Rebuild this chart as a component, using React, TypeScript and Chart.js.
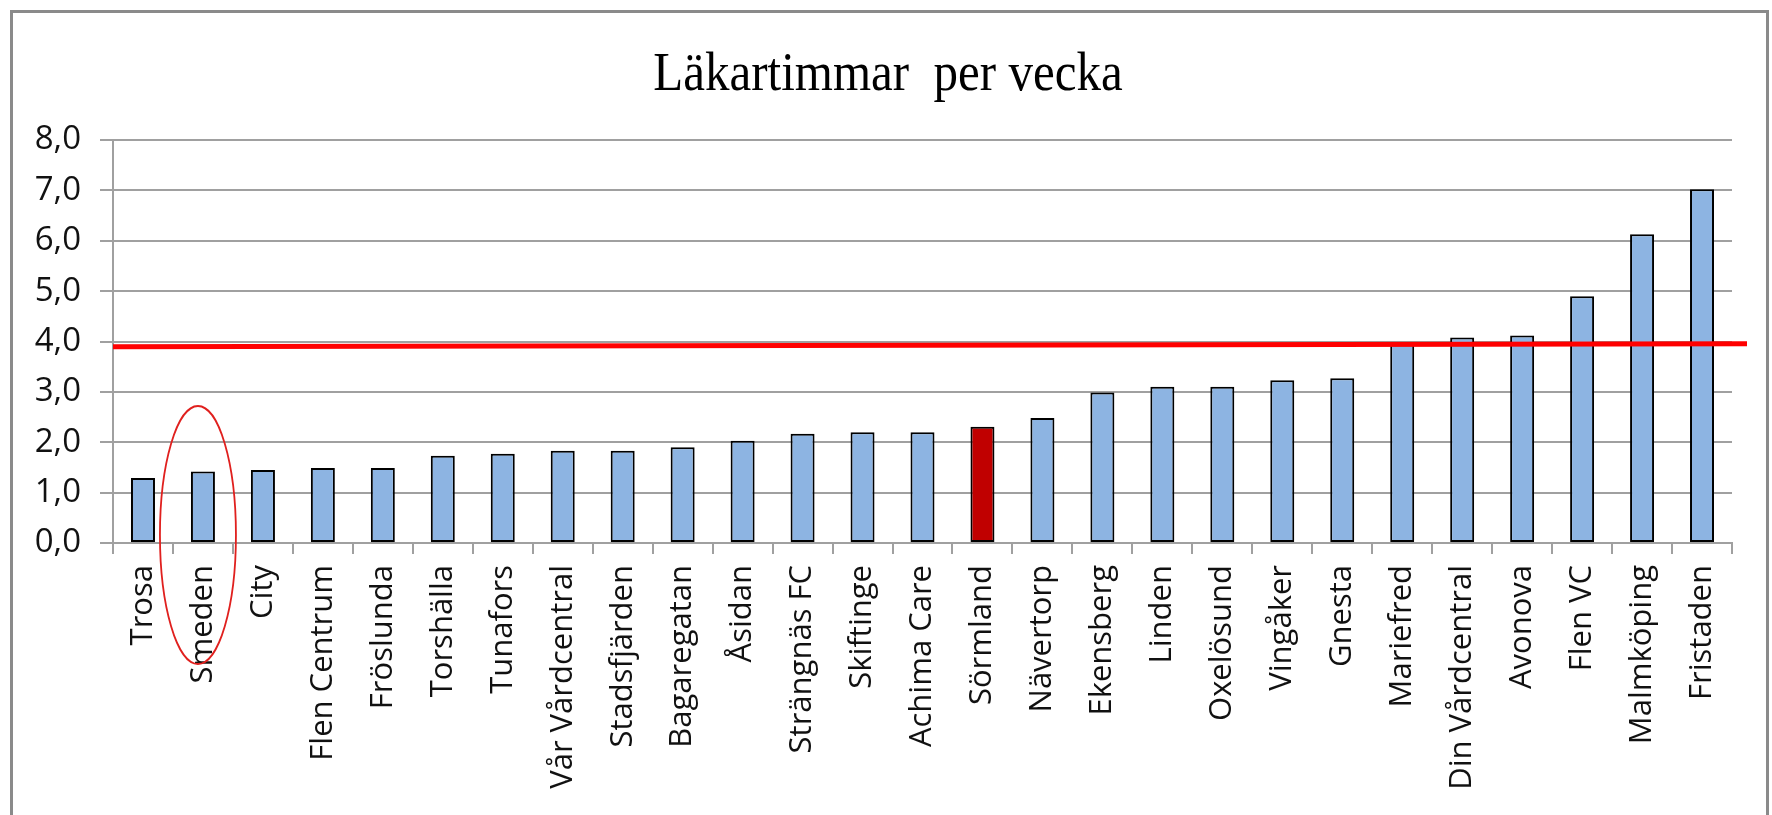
import React, { useEffect, useRef } from 'react';
import { Chart, registerables } from 'chart.js';

Chart.register(...registerables);

const TITLE = 'Läkartimmar  per vecka';

const CATEGORIES = [
  'Trosa', 'Smeden', 'City', 'Flen Centrum', 'Fröslunda', 'Torshälla', 'Tunafors',
  'Vår Vårdcentral', 'Stadsfjärden', 'Bagaregatan', 'Åsidan', 'Strängnäs FC',
  'Skiftinge', 'Achima Care', 'Sörmland', 'Nävertorp', 'Ekensberg', 'Linden',
  'Oxelösund', 'Vingåker', 'Gnesta', 'Mariefred', 'Din Vårdcentral', 'Avonova',
  'Flen VC', 'Malmköping', 'Fristaden',
];

const VALUES = [
  1.29, 1.42, 1.45, 1.49, 1.49, 1.73, 1.77,
  1.83, 1.83, 1.90, 2.03, 2.17,
  2.20, 2.20, 2.31, 2.48, 2.99, 3.10,
  3.10, 3.23, 3.27, 3.98, 4.08, 4.12,
  4.90, 6.13, 7.02,
];

const HIGHLIGHT = 'Sörmland';
const CIRCLED = 'Smeden';
const Y_MIN = 0;
const Y_MAX = 8;
const Y_STEP = 1;
// hand-drawn average line: value at left end, value at right end
const REF_LINE = [3.895, 3.955];

const W = 1772;
const H = 815;

const BAR_COLOR = '#8DB4E2';
const HIGHLIGHT_COLOR = '#C00000';
const GRID_COLOR = '#a0a0a0';
const LABEL_FONT = '"Open Sans", "Noto Sans", sans-serif';
const TITLE_FONT = '"Liberation Serif", "Times New Roman", serif';

const decorPlugin = {
  id: 'decor',
  beforeDraw(chart: any) {
    const ctx = chart.ctx;
    ctx.save();
    ctx.fillStyle = '#ffffff';
    ctx.fillRect(0, 0, W, H);
    ctx.strokeStyle = '#8a8a8a';
    ctx.lineWidth = 3;
    ctx.strokeRect(11.5, 11.5, 1756, 1000);
    // title
    ctx.fillStyle = '#000000';
    ctx.font = `normal 49px ${TITLE_FONT}`;
    ctx.textAlign = 'center';
    ctx.textBaseline = 'alphabetic';
    ctx.translate(888, 90);
    ctx.scale(1, 1.12);
    ctx.fillText(TITLE, 0, 0);
    ctx.restore();
  },
  afterDatasetsDraw(chart: any) {
    const { ctx, chartArea, scales } = chart;
    const x = scales.x;
    const y = scales.y;
    ctx.save();
    // red reference line
    ctx.strokeStyle = '#ff0000';
    ctx.lineWidth = 5;
    ctx.beginPath();
    ctx.moveTo(chartArea.left, y.getPixelForValue(REF_LINE[0]));
    ctx.lineTo(chartArea.right + 15, y.getPixelForValue(REF_LINE[1]));
    ctx.stroke();
    // ellipse around circled category
    const idx = CATEGORIES.indexOf(CIRCLED);
    const cx = x.getPixelForValue(idx) - 5;
    const cy = y.getPixelForValue(0) - 8;
    ctx.strokeStyle = '#e0201e';
    ctx.lineWidth = 1.8;
    ctx.beginPath();
    ctx.ellipse(cx, cy, 38, 129, 0, 0, Math.PI * 2);
    ctx.stroke();
    ctx.restore();
  },
};

export default function App() {
  const ref = useRef<HTMLCanvasElement | null>(null);

  useEffect(() => {
    if (!ref.current) return;
    const chart = new Chart(ref.current, {
      type: 'bar',
      data: {
        labels: CATEGORIES,
        datasets: [
          {
            data: VALUES,
            backgroundColor: CATEGORIES.map((c) => (c === HIGHLIGHT ? HIGHLIGHT_COLOR : BAR_COLOR)),
            borderColor: '#000000',
            borderWidth: 2,
            borderSkipped: false,
            barPercentage: 0.4,
            categoryPercentage: 1,
          },
        ],
      },
      options: {
        animation: false,
        responsive: false,
        devicePixelRatio: 1,
        layout: { padding: { left: 20, right: 40, top: 140, bottom: 0 } },
        plugins: {
          legend: { display: false },
          tooltip: { enabled: false },
          title: { display: false },
        },
        scales: {
          x: {
            grid: {
              drawOnChartArea: false,
              drawTicks: true,
              tickLength: 11,
              color: GRID_COLOR,
              lineWidth: 2,
              offset: true,
            },
            border: { display: true, color: GRID_COLOR, width: 2 },
            ticks: {
              autoSkip: false,
              minRotation: 90,
              maxRotation: 90,
              padding: 11,
              color: '#111111',
              font: { family: LABEL_FONT, size: 31 },
            },
            afterFit: (s: any) => {
              s.height = H - 543;
            },
          },
          y: {
            min: Y_MIN,
            max: Y_MAX,
            ticks: {
              stepSize: Y_STEP,
              padding: 19,
              color: '#111111',
              font: { family: LABEL_FONT, size: 33 },
              callback: (v: any) => Number(v).toFixed(1).replace('.', ','),
            },
            grid: { color: GRID_COLOR, lineWidth: 2, tickLength: 13 },
            border: { display: true, color: GRID_COLOR, width: 2 },
            afterFit: (s: any) => {
              s.width = 93;
            },
          },
        },
      },
      plugins: [decorPlugin],
    });
    return () => chart.destroy();
  }, []);

  return (
    <div style={{ position: 'fixed', left: 0, top: 0, width: W, height: H, background: '#fff' }}>
      <canvas ref={ref} width={W} height={H} style={{ width: W, height: H, display: 'block' }} />
    </div>
  );
}
